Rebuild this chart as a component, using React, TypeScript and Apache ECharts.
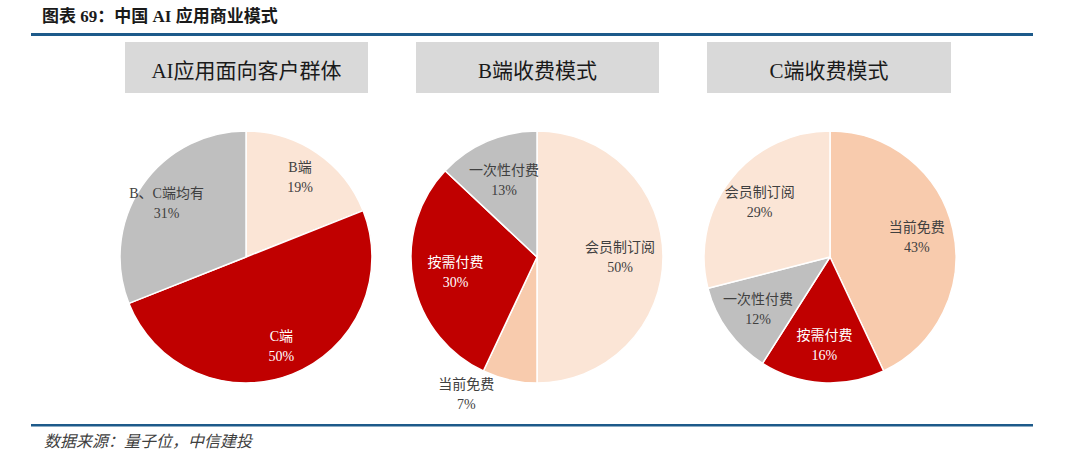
import React, { useEffect, useRef } from "react";
import * as echarts from "echarts";

const chartTitle = "图表 69：中国 AI 应用商业模式";
const sourceNote = "数据来源：量子位，中信建投";
const panelTitles = ["AI应用面向客户群体", "B端收费模式", "C端收费模式"];

const pie1Names = ["B端", "C端", "B、C端均有"];
const pie1Values = [19, 50, 31];
const pie2Names = ["会员制订阅", "当前免费", "按需付费", "一次性付费"];
const pie2Values = [50, 7, 30, 13];
const pie3Names = ["当前免费", "按需付费", "一次性付费", "会员制订阅"];
const pie3Values = [43, 16, 12, 29];

const colorByName: Record<string, string> = {
  "B端": "#FBE5D6",
  "C端": "#C00000",
  "B、C端均有": "#BFBFBF",
  "会员制订阅": "#FBE5D6",
  "当前免费": "#F8CBAD",
  "按需付费": "#C00000",
  "一次性付费": "#BFBFBF",
};

const FONT = "'Times New Roman', 'Liberation Serif', 'Noto Sans CJK SC', serif";
const BLUE = "#1D5A8A";

const pies = [
  { names: pie1Names, values: pie1Values, cx: 246, labelInner: 60 },
  { names: pie2Names, values: pie2Values, cx: 537, labelInner: 34 },
  { names: pie3Names, values: pie3Values, cx: 830, labelInner: 46 },
];
const CY = 257;
const R = 126;

export default function App() {
  const ref = useRef<HTMLDivElement>(null);
  useEffect(() => {
    if (!ref.current) return;
    const chart = echarts.init(ref.current, null, { renderer: "svg" });
    const series: any[] = [];
    pies.forEach((p, pi) => {
      series.push({
        type: "pie",
        center: [p.cx, CY],
        radius: [0, R],
        startAngle: 90,
        clockwise: true,
        silent: true,
        label: { show: false },
        labelLine: { show: false },
        itemStyle: { borderColor: "#ffffff", borderWidth: 1.5 },
        data: p.names.map((n, i) => ({
          name: n,
          value: p.values[i],
          itemStyle: { color: colorByName[n] },
        })),
      });
      series.push({
        type: "pie",
        center: [p.cx, CY],
        radius: [p.labelInner, R],
        startAngle: 90,
        clockwise: true,
        silent: true,
        avoidLabelOverlap: false,
        itemStyle: { color: "rgba(0,0,0,0)", borderWidth: 0 },
        label: {
          show: true,
          position: "inside",
          formatter: "{b}\n{c}%",
          fontFamily: FONT,
          fontSize: 14,
          lineHeight: 20,
          color: "#404040",
        },
        labelLine: { show: false },
        data: p.names.map((n, i) => {
          const item: any = { name: n, value: p.values[i] };
          if (colorByName[n] === "#C00000") {
            item.label = { color: "#ffffff" };
          }
          if (pi === 1 && n === "当前免费") {
            item.label = {
              position: "outside",
              formatter: "{a|{b}}\n{a|{c}%}",
              rich: {
                a: {
                  width: 58,
                  align: "center",
                  fontFamily: FONT,
                  fontSize: 14,
                  lineHeight: 20,
                  color: "#404040",
                },
              },
            };
            item.labelLine = { show: false, length: 15, length2: 6 };
          }
          return item;
        }),
      });
    });

    const boxes = [
      { x: 125, w: 243 },
      { x: 416, w: 243 },
      { x: 707, w: 244 },
    ];

    const graphic: any[] = [
      {
        type: "text",
        left: 42,
        top: 8,
        style: {
          text: chartTitle,
          font: `bold 17px ${FONT}`,
          fill: "#1a1a1a",
        },
      },
      {
        type: "rect",
        shape: { x: 31, y: 33, width: 1002, height: 3 },
        style: { fill: BLUE },
      },
      {
        type: "rect",
        shape: { x: 31, y: 424, width: 1002, height: 2.5 },
        style: { fill: BLUE },
      },
      {
        type: "text",
        left: 44,
        top: 433,
        style: {
          text: sourceNote,
          font: `italic 16px ${FONT}`,
          fill: "#404040",
        },
      },
    ];
    boxes.forEach((b, i) => {
      graphic.push({
        type: "rect",
        shape: { x: b.x, y: 42, width: b.w, height: 51 },
        style: { fill: "#D9D9D9" },
      });
      graphic.push({
        type: "text",
        x: b.x + b.w / 2,
        y: 71,
        style: {
          text: panelTitles[i],
          font: `21px ${FONT}`,
          fill: "#1a1a1a",
          align: "center",
          verticalAlign: "middle",
        },
      });
    });

    chart.setOption({
      animation: false,
      backgroundColor: "#ffffff",
      series,
      graphic,
    });
    return () => chart.dispose();
  }, []);
  return (
    <div
      ref={ref}
      style={{ position: "absolute", left: 0, top: 0, width: 1080, height: 463 }}
    />
  );
}
